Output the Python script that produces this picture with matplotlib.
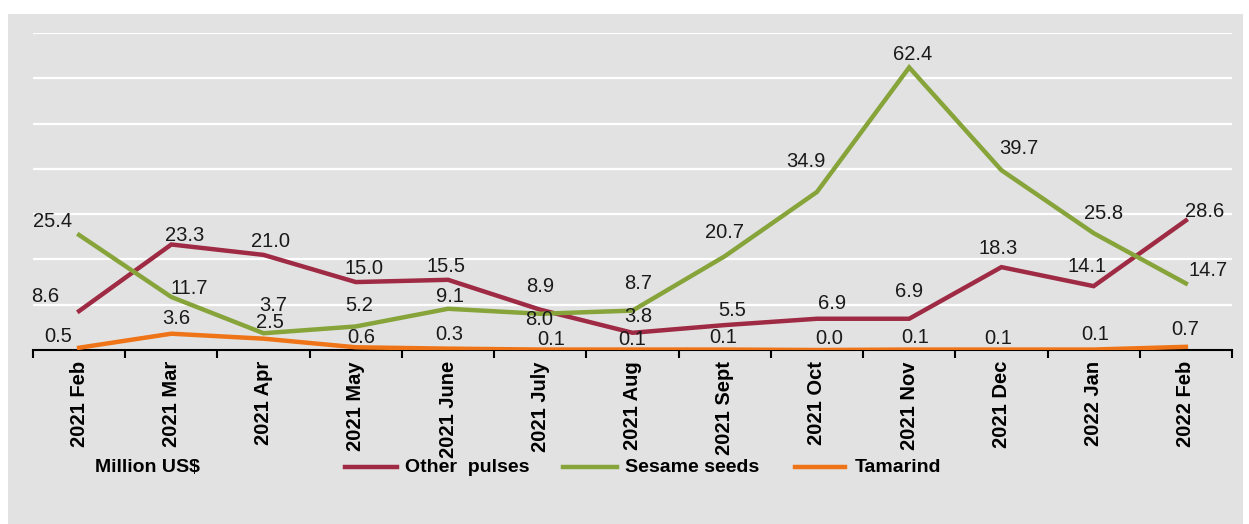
import matplotlib
matplotlib.use("Agg")
import matplotlib.pyplot as plt
from matplotlib.lines import Line2D
from matplotlib.patches import Rectangle

months = ["2021 Feb", "2021 Mar", "2021 Apr", "2021 May", "2021 June", "2021 July",
          "2021 Aug", "2021 Sept", "2021 Oct", "2021 Nov", "2021 Dec", "2022 Jan", "2022 Feb"]

other_pulses = [8.6, 23.3, 21.0, 15.0, 15.5, 8.9, 3.8, 5.5, 6.9, 6.9, 18.3, 14.1, 28.6]
sesame_seeds = [25.4, 11.7, 3.7, 5.2, 9.1, 8.0, 8.7, 20.7, 34.9, 62.4, 39.7, 25.8, 14.7]
tamarind = [0.5, 3.6, 2.5, 0.6, 0.3, 0.1, 0.1, 0.1, 0.0, 0.1, 0.1, 0.1, 0.7]

# label offsets in pixels (dx right, dy down), copied from the excel auto placement
off_pulses = [(-34, -15), (13, -9), (7, -13), (8, -14), (-2, -13), (0, -23), (6, -16),
              (7, -15), (15, -15), (0, -27), (-3, -19), (-7, -20), (19, -9)]
off_sesame = [(-27, -13), (18, -9), (10, -28), (3, -21), (2, -12), (-1, 6), (6, -27),
              (0, -24), (-11, -30), (3, -13), (17, -22), (10, -20), (22, -13)]
off_tamarind = [(-21, -11), (5, -15), (6, -16), (5, -10), (1, -14), (11, -10), (0, -10),
                (-2, -12), (12, -12), (6, -12), (-3, -11), (2, -15), (-1, -17)]

c_pulses = "#9e2a44"
c_sesame = "#86a43a"
c_tamarind = "#ef7417"

plt.rcParams["font.family"] = ["Liberation Sans", "DejaVu Sans"]

W, H = 1249, 524
fig = plt.figure(figsize=(W / 100, H / 100), dpi=100)
fig.patch.set_facecolor("white")
fig.add_artist(Rectangle((8 / W, 0), (1243 - 8) / W, (H - 14) / H,
                         transform=fig.transFigure, facecolor="#e2e2e2",
                         edgecolor="none", zorder=0))

ax = fig.add_axes([33 / W, (H - 350) / H, 1199 / W, 317 / H])
ax.set_facecolor("none")
x = list(range(len(months)))

for vals, col, offs in [(other_pulses, c_pulses, off_pulses),
                        (sesame_seeds, c_sesame, off_sesame),
                        (tamarind, c_tamarind, off_tamarind)]:
    ax.plot(x, vals, color=col, lw=3.2, solid_joinstyle="miter", zorder=3)
    for i, v in enumerate(vals):
        ax.annotate("%.1f" % v, (i, v), xytext=(offs[i][0], -offs[i][1]),
                    textcoords="offset pixels", ha="center", va="center",
                    fontsize=14.5, color="#1a1a1a", zorder=4)

ax.set_xlim(-0.5, len(months) - 0.5)
ax.set_ylim(0, 70)
ax.set_yticks(range(10, 71, 10))
ax.yaxis.grid(True, color="white", lw=1.6)
ax.set_axisbelow(True)
ax.tick_params(axis="y", left=False, labelleft=False)
for s in ["left", "right", "top"]:
    ax.spines[s].set_visible(False)
ax.spines["bottom"].set_color("black")
ax.spines["bottom"].set_linewidth(1.5)

ax.set_xticks(x)
ax.set_xticklabels(months, rotation=90, fontsize=14.5, fontweight="bold", va="top")
ax.set_xticks([i - 0.5 for i in range(len(months) + 1)], minor=True)
ax.tick_params(axis="x", which="major", length=0, pad=8)
ax.tick_params(axis="x", which="minor", length=6, width=1.5, direction="out", color="black")

# legend row
ly = 1 - 467 / H
fig.text(95 / W, ly, "Million US$", fontsize=14, fontweight="bold", va="center")
for x0, x1, tx, col, name in [(345, 397, 405, c_pulses, "Other  pulses"),
                              (563, 617, 625, c_sesame, "Sesame seeds"),
                              (795, 845, 855, c_tamarind, "Tamarind")]:
    fig.add_artist(Line2D([x0 / W, x1 / W], [ly, ly], color=col, lw=3.2,
                          transform=fig.transFigure))
    fig.text(tx / W, ly, name, fontsize=14, fontweight="bold", va="center")

fig.savefig("out.png", dpi=100)
